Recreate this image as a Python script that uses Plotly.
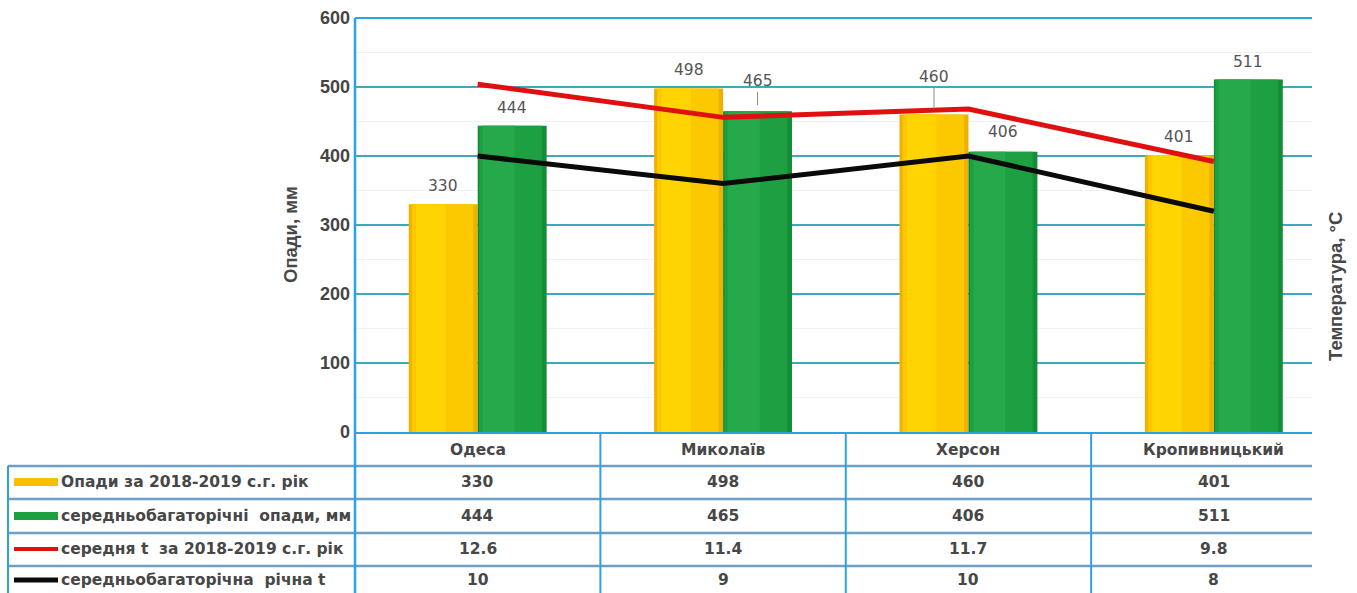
import plotly.graph_objects as go

# ---- data ----
cities = ["Одеса", "Миколаїв", "Херсон", "Кропивницький"]
precip_2018_2019 = [330, 498, 460, 401]
precip_longterm = [444, 465, 406, 511]
temp_2018_2019 = [12.6, 11.4, 11.7, 9.8]
temp_longterm = [10, 9, 10, 8]
series_names = [
    "Опади за 2018-2019 с.г. рік",
    "середньобагаторічні  опади, мм",
    "середня t  за 2018-2019 с.г. рік",
    "середньобагаторічна  річна t",
]
y_ticks = [0, 100, 200, 300, 400, 500, 600]

# ---- layout geometry (pixels) ----
W, H = 1357, 593
L, R, T, B = 355, 1312, 18, 432
PW, PH = R - L, B - T
xs = list(range(len(cities)))
XR = [-0.5, 3.4]


def py(p):
    """pixel row -> paper y"""
    return (B - p) / PH


def pxp(p):
    """pixel column -> paper x"""
    return (p - L) / PW


BW = 0.281
TXT = "#474747"
FONT = "Liberation Sans"
TFONT = "DejaVu Sans"

fig = go.Figure()

# yellow bars: slightly darker rim with a brighter core
fig.add_trace(go.Bar(x=xs, y=precip_2018_2019, offset=-BW, width=BW,
                     marker=dict(color="#f0b000", line=dict(width=0)), name=series_names[0]))
fig.add_trace(go.Bar(x=xs, y=precip_2018_2019, offset=-BW + 0.012, width=BW - 0.03,
                     marker=dict(color="#fcc800", line=dict(width=0)), showlegend=False))
fig.add_trace(go.Bar(x=xs, y=precip_2018_2019, offset=-BW + 0.03, width=0.12,
                     marker=dict(color="#ffd400", line=dict(width=0)), showlegend=False))
# green bars
fig.add_trace(go.Bar(x=xs, y=precip_longterm, offset=0, width=BW,
                     marker=dict(color="#148c38", line=dict(width=0)), showlegend=False))
fig.add_trace(go.Bar(x=xs, y=precip_longterm, offset=0.006, width=BW - 0.025,
                     marker=dict(color="#1e9f42", line=dict(width=0)), name=series_names[1]))
fig.add_trace(go.Bar(x=xs, y=precip_longterm, offset=0.02, width=0.13,
                     marker=dict(color="#26a94a", line=dict(width=0)), showlegend=False))

# temperature lines on the secondary axis
fig.add_trace(go.Scatter(x=xs, y=temp_2018_2019, yaxis="y2", mode="lines",
                         line=dict(color="#e01010", width=5), name=series_names[2]))
fig.add_trace(go.Scatter(x=xs, y=temp_longterm, yaxis="y2", mode="lines",
                         line=dict(color="#0a0a0a", width=5), name=series_names[3]))

annotations = []
shapes = []

# value labels above the bars (lift in px, a couple of them on leader lines)
yl_lift = [18, 18, 38, 18]
gl_lift = [18, 30, 20, 17]
for i in xs:
    annotations.append(dict(x=i - BW / 2, y=precip_2018_2019[i], xref="x", yref="y",
                            text=str(precip_2018_2019[i]), showarrow=False,
                            xanchor="center", yanchor="middle",
                            yshift=yl_lift[i], font=dict(family=TFONT, size=15.5, color="#555")))
    annotations.append(dict(x=i + BW / 2, y=precip_longterm[i], xref="x", yref="y",
                            text=str(precip_longterm[i]), showarrow=False,
                            xanchor="center", yanchor="middle",
                            yshift=gl_lift[i], font=dict(family=TFONT, size=15.5, color="#555")))
# leader lines
leaders = [(2 - BW / 2, precip_2018_2019[2], 6, 27), (1 + BW / 2, precip_longterm[1], 6, 19)]

# axis titles
annotations.append(dict(x=pxp(290), y=py(235), xref="paper", yref="paper", text="<b>Опади, мм</b>",
                        textangle=-90, showarrow=False, xanchor="center", yanchor="middle",
                        font=dict(family=FONT, size=18.5, color=TXT)))
annotations.append(dict(x=pxp(1335), y=py(287), xref="paper", yref="paper",
                        text="<b>Температура, °С</b>", textangle=-90, showarrow=False,
                        xanchor="center", yanchor="middle",
                        font=dict(family=FONT, size=18.5, color=TXT)))

# ---- data table under the plot ----
LINE_V = "#2aa3e0"
LINE_H = "#6d9ec6"
row_edges = [433, 466, 499, 533, 566]
row_centers = [450, 482, 516, 549, 580]

# horizontal rules
shapes.append(dict(type="line", xref="paper", yref="paper", x0=0, x1=1, y0=py(433), y1=py(433),
                   line=dict(color=LINE_V, width=2)))
for e in row_edges[1:]:
    shapes.append(dict(type="line", xref="paper", yref="paper", x0=pxp(8), x1=1, y0=py(e), y1=py(e),
                       line=dict(color=LINE_H, width=2.5)))
# vertical rules
shapes.append(dict(type="line", xref="paper", yref="paper", x0=pxp(8), x1=pxp(8), y0=py(466), y1=py(593),
                   line=dict(color=LINE_V, width=2)))
shapes.append(dict(type="line", xref="paper", yref="paper", x0=0, x1=0, y0=1, y1=py(593),
                   line=dict(color=LINE_V, width=2.5)))
for b in [0.5, 1.5, 2.5]:
    shapes.append(dict(type="line", xref="x", yref="paper", x0=b, x1=b, y0=py(433), y1=py(593),
                       line=dict(color=LINE_V, width=2)))

# header with city names and the value rows
rows = [
    [str(v) for v in precip_2018_2019],
    [str(v) for v in precip_longterm],
    [str(v) for v in temp_2018_2019],
    [str(v) for v in temp_longterm],
]
for i, c in enumerate(cities):
    annotations.append(dict(x=i, y=py(row_centers[0]), xref="x", yref="paper", text=f"<b>{c}</b>",
                            showarrow=False, xanchor="center", yanchor="middle",
                            font=dict(family=TFONT, size=15.5, color=TXT)))
    for r, vals in enumerate(rows):
        annotations.append(dict(x=i, y=py(row_centers[r + 1]), xref="x", yref="paper",
                                text=f"<b>{vals[i]}</b>", showarrow=False,
                                xanchor="center", yanchor="middle",
                                font=dict(family=TFONT, size=15.5, color=TXT)))

# legend keys in the first table column
key_style = [
    ("rect", "#f5c000", 8),
    ("rect", "#1fa040", 8),
    ("line", "#e01010", 4),
    ("line", "#0a0a0a", 5),
]
for r, (kind, col, h) in enumerate(key_style):
    yc = row_centers[r + 1]
    shapes.append(dict(type="rect", xref="paper", yref="paper", x0=pxp(14), x1=pxp(58),
                       y0=py(yc + h / 2), y1=py(yc - h / 2), fillcolor=col, line=dict(width=0)))
    annotations.append(dict(x=pxp(59), y=py(yc), xref="paper", yref="paper", xanchor="left",
                            yanchor="middle", text=f"<b>{series_names[r]}</b>", showarrow=False,
                            font=dict(family=TFONT, size=15.5, color=TXT)))

for (lx, ly, y0px, y1px) in leaders:
    shapes.append(dict(type="line", xref="x", yref="y", x0=lx, x1=lx, y0=ly + y0px * 600 / PH,
                       y1=ly + y1px * 600 / PH, line=dict(color="#888", width=1)))

fig.update_layout(
    width=W, height=H,
    margin=dict(l=L, r=W - R, t=T, b=H - B),
    paper_bgcolor="white", plot_bgcolor="white",
    barmode="overlay", showlegend=False,
    xaxis=dict(range=XR, showticklabels=False, showgrid=False, zeroline=False, showline=False,
               fixedrange=True, automargin=False),
    yaxis=dict(range=[0, 600], tickvals=y_ticks, ticks="", zeroline=False,
               showgrid=True, gridcolor="#3fa8bc", gridwidth=2,
               minor=dict(dtick=50, showgrid=True, gridcolor="#eef2f6", gridwidth=1),
               tickfont=dict(family=FONT, size=18, color="#444", weight="bold"),
               ticklabelstandoff=4, showline=False, automargin=False),
    yaxis2=dict(range=[0, 15], overlaying="y", side="right", showticklabels=False,
                showgrid=False, zeroline=False, showline=False, automargin=False),
    annotations=annotations,
    shapes=shapes,
)
# top border of the plot area
fig.add_shape(type="line", xref="paper", yref="paper", x0=0, x1=1, y0=1, y1=1,
              line=dict(color="#2aa3e0", width=2))

fig.write_html("out.html")
